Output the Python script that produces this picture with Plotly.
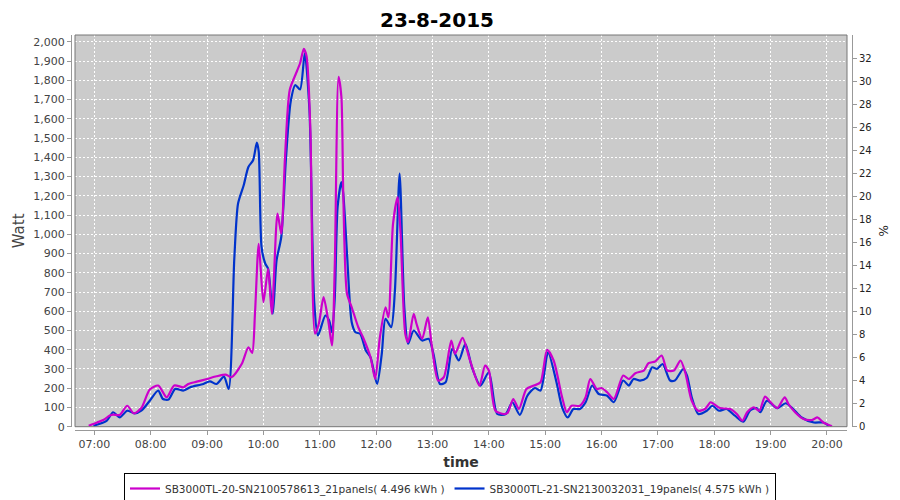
import plotly.graph_objects as go

DAY = "2015-08-23 "

# SB3000TL-20 (magenta)
mag_time = ["06:54","07:03","07:10","07:16","07:20","07:27","07:35","07:42","07:50","07:59",
            "08:08","08:17","08:25","08:35","08:40","08:49","09:00","09:10","09:20","09:26",
            "09:37","09:44","09:48","09:51","09:55","10:00","10:05","10:09","10:15","10:19",
            "10:23","10:28","10:34","10:39","10:43","10:46","10:50","10:55","10:59","11:04",
            "11:09","11:13","11:16","11:20","11:23","11:25","11:29","11:34","11:41","11:46",
            "11:54","11:59","12:04","12:10","12:13","12:18","12:23","12:26","12:31","12:34",
            "12:40","12:43","12:49","12:55","12:59","13:06","13:12","13:20","13:24","13:32",
            "13:40","13:50","13:56","14:00","14:07","14:16","14:20","14:26","14:32","14:40",
            "14:48","14:55","15:02","15:09","15:18","15:23","15:28","15:37","15:43","15:48",
            "15:55","16:00","16:06","16:13","16:23","16:29","16:36","16:45","16:50","16:57",
            "17:04","17:10","17:17","17:24","17:29","17:36","17:43","17:50","17:56","17:59",
            "18:06","18:17","18:24","18:30","18:35","18:42","18:48","18:54","19:00","19:07",
            "19:15","19:19","19:26","19:35","19:44","19:50","19:56","20:04","20:05"]
mag_watt = [5,22,36,57,63,61,109,69,97,193,
            214,153,214,205,222,234,248,262,271,257,
            327,413,384,587,950,647,821,587,1108,1004,
            1403,1750,1828,1889,1964,1924,1542,483,535,673,
            552,422,847,1819,1715,1212,691,621,517,465,
            361,248,465,621,569,1056,1194,1004,483,439,
            587,535,457,569,431,240,257,448,379,462,
            344,214,318,292,83,66,72,144,92,196,
            214,231,399,344,153,75,109,109,153,248,
            196,201,179,144,266,248,278,292,330,339,
            370,292,292,344,283,135,83,92,127,120,
            97,92,66,31,75,101,83,156,127,97,
            153,118,75,40,35,48,22,5,0]

# SB3000TL-21 (blue)
blu_time = ["06:59","07:13","07:20","07:27","07:35","07:43","07:50","07:59","08:08","08:13",
            "08:19","08:26","08:35","08:42","08:56","09:03","09:10","09:18","09:23","09:29",
            "09:33","09:39","09:44","09:49","09:53","09:55","09:58","10:02","10:05","10:10",
            "10:14","10:19","10:24","10:29","10:34","10:39","10:44","10:49","10:54","10:58",
            "11:06","11:10","11:13","11:16","11:19","11:23","11:25","11:29","11:34","11:38",
            "11:43","11:49","11:54","12:01","12:06","12:10","12:16","12:20","12:25","12:30",
            "12:34","12:40","12:49","12:56","13:01","13:08","13:14","13:21","13:28","13:35",
            "13:42","13:51","14:00","14:09","14:18","14:25","14:33","14:41","14:49","14:55",
            "15:03","15:12","15:18","15:24","15:30","15:37","15:43","15:50","15:57","16:06",
            "16:13","16:23","16:29","16:34","16:41","16:48","16:54","16:59","17:05","17:13",
            "17:18","17:27","17:31","17:36","17:43","17:52","17:58","18:05","18:13","18:22",
            "18:31","18:38","18:45","18:49","18:56","19:07","19:16","19:24","19:33","19:46",
            "19:56","20:02"]
blu_watt = [5,30,75,48,83,69,83,135,188,144,
            141,196,188,205,222,236,222,260,196,873,
            1160,1255,1350,1385,1477,1430,934,847,821,587,
            865,986,1394,1689,1776,1753,1941,1646,656,474,
            578,552,491,673,1142,1272,1212,899,543,491,
            483,396,361,222,379,561,517,708,1316,621,
            431,500,448,457,379,222,231,405,344,431,
            309,214,283,66,66,127,61,161,201,188,
            387,231,101,48,92,92,127,214,170,161,
            127,240,214,248,240,253,309,300,326,240,
            240,300,266,153,66,83,109,83,92,57,
            26,83,97,75,135,97,122,92,48,22,
            22,5]

mag_name = "SB3000TL-20-SN2100578613_21panels( 4.496 kWh )"
blu_name = "SB3000TL-21-SN2130032031_19panels( 4.575 kWh )"

pct_ticks = list(range(0, 33, 2))

MAG = "#CC00CC"
BLU = "#0033CC"
FONT = "DejaVu Sans"

fig = go.Figure()
fig.add_trace(go.Scatter(
    x=[DAY + t for t in blu_time], y=blu_watt, name=blu_name, mode="lines",
    line=dict(color=BLU, width=2.2, shape="spline", smoothing=0.7), legendrank=2))
fig.add_trace(go.Scatter(
    x=[DAY + t for t in mag_time], y=mag_watt, name=mag_name, mode="lines",
    line=dict(color=MAG, width=2.2, shape="spline", smoothing=0.7), legendrank=1))
# empty trace to carry the right axis
fig.add_trace(go.Scatter(x=[DAY + "12:00"], y=[None], yaxis="y2", showlegend=False,
                         hoverinfo="skip", mode="lines"))

# the page body has an 8px margin, so the figure is 8px smaller than the window
OFF = 8
W, H = 900 - OFF, 500 - OFF
L = 71 - OFF
R = W - (852 - OFF)
T = 35 - OFF
B = H - (430 - OFF)
pw = W - L - R
ph = H - T - B

fig.update_layout(
    width=W, height=H,
    margin=dict(l=L, r=R, t=T, b=B, autoexpand=False),
    paper_bgcolor="white",
    plot_bgcolor="#CBCBCB",
    font=dict(family=FONT, size=11, color="#444444"),
    title=dict(text="<b>23-8-2015</b>", x=(437 - OFF) / W, xanchor="center",
               yref="container", y=1 - (20 - OFF) / H, yanchor="middle",
               font=dict(family="DejaVu Sans", size=20, color="#000000")),
    xaxis=dict(
        type="date",
        domain=[(75 - 71) / pw, (847 - 71) / pw],
        range=[DAY + "06:39:24", DAY + "20:21:18"],
        dtick=3600000, tickformat="%H:%M",
        showgrid=True, gridcolor="white", griddash="2px,2px", gridwidth=1,
        showline=True, linecolor="#999999", linewidth=1,
        ticks="outside", ticklen=4, tickcolor="#999999",
        anchor="free", position=0, automargin=False,
        zeroline=False,
        tickfont=dict(size=11, color="#444444"),
        title=dict(text="<b>time</b>", font=dict(size=14, color="#333333"), standoff=6),
    ),
    yaxis=dict(
        domain=[(430 - 426.7) / ph, 1],
        range=[0, 2036],
        dtick=100, tickformat=",",
        showgrid=True, gridcolor="white", griddash="2px,2px", gridwidth=1,
        showline=True, linecolor="#999999", linewidth=1,
        ticks="outside", ticklen=4, tickcolor="#999999",
        anchor="free", position=0, automargin=False,
        zeroline=False,
        tickfont=dict(size=11, color="#444444"),
        title=dict(text="Watt", font=dict(size=15, color="#444444"), standoff=4),
    ),
    yaxis2=dict(
        overlaying="y",
        side="right",
        range=[0, 34],
        tickvals=pct_ticks,
        showgrid=False,
        showline=True, linecolor="#999999", linewidth=1,
        ticks="outside", ticklen=4, tickcolor="#999999",
        anchor="free", position=1, automargin=False,
        zeroline=False,
        tickfont=dict(size=10, color="#222222"),
        title=dict(text="%", font=dict(size=12, color="#222222"), standoff=8),
    ),
    legend=dict(
        orientation="h", x=(450 - 71) / pw, xanchor="center",
        y=-(473 - 430) / ph, yanchor="top",
        bordercolor="#000000", borderwidth=1, bgcolor="white",
        font=dict(size=10.5, color="#333333"),
        itemwidth=30, tracegroupgap=0,
    ),
    showlegend=True,
)

fig.add_shape(type="rect", xref="x domain", yref="y domain", x0=0, x1=1, y0=0, y1=1,
              line=dict(color="#777777", width=1), fillcolor="rgba(0,0,0,0)", layer="above")

fig.write_html("out.html")
